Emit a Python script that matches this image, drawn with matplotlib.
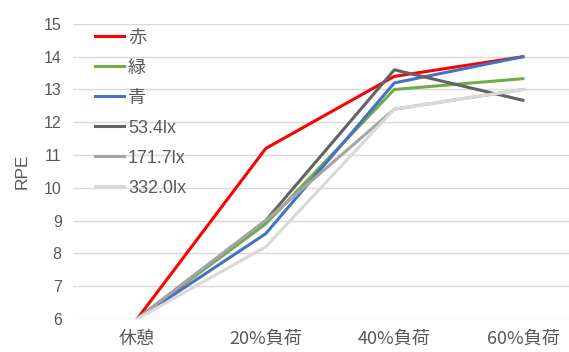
import matplotlib.pyplot as plt

plt.rcParams['font.family'] = ['Liberation Sans', 'Noto Sans CJK JP']

categories = ["休憩", "20%負荷", "40%負荷", "60%負荷"]
series_names = ["赤", "緑", "青", "53.4lx", "171.7lx", "332.0lx"]
aka = [6, 11.2, 13.4, 14.0]
midori = [6, 8.9, 13.0, 13.33]
ao = [6, 8.6, 13.2, 14.0]
lx534 = [6, 9.0, 13.6, 12.67]
lx1717 = [6, 9.0, 12.4, 13.0]
lx3320 = [6, 8.2, 12.4, 13.0]
yticks = list(range(6, 16))

colors = ["#FF0000", "#70AD47", "#4472C4", "#636363", "#A5A5A5", "#D9D9D9"]
values = [aka, midori, ao, lx534, lx1717, lx3320]
order = [5, 4, 1, 2, 3, 0]  # drawing order so overlaps look right

fig = plt.figure(figsize=(5.69, 3.52), dpi=100)
ax = fig.add_axes([0.128, 0.094, 0.904, 0.838])

x = range(len(categories))
lines = {}
for i in order:
    (ln,) = ax.plot(x, values[i], color=colors[i], linewidth=2.2, label=series_names[i], zorder=3 + i * 0.1)
    lines[i] = ln

ax.set_xlim(-0.5, 3.5)
ax.set_ylim(6, 15)
ax.set_yticks(yticks)
ax.set_xticks(list(x))
ax.set_xticklabels(categories, fontsize=13, family=['Noto Sans CJK JP'])
ax.grid(axis="y", color="#D9D9D9", linewidth=1)
ax.set_axisbelow(True)
for s in ax.spines.values():
    s.set_visible(False)
ax.tick_params(axis="y", length=0, labelsize=11.5, colors="#595959", pad=8)
ax.tick_params(axis="x", length=0, colors="#595959", pad=8)
ax.set_ylabel("RPE", fontsize=12.5, color="#595959", labelpad=10)

leg = ax.legend([lines[i] for i in range(6)], series_names, loc="upper left",
                bbox_to_anchor=(0.03, 1.005), frameon=False, fontsize=13,
                handlelength=1.6, handletextpad=0.2, labelspacing=0.72,
                borderaxespad=0.0)
for t in leg.get_texts():
    t.set_color("#595959")

fig.savefig("out.png", dpi=100)
